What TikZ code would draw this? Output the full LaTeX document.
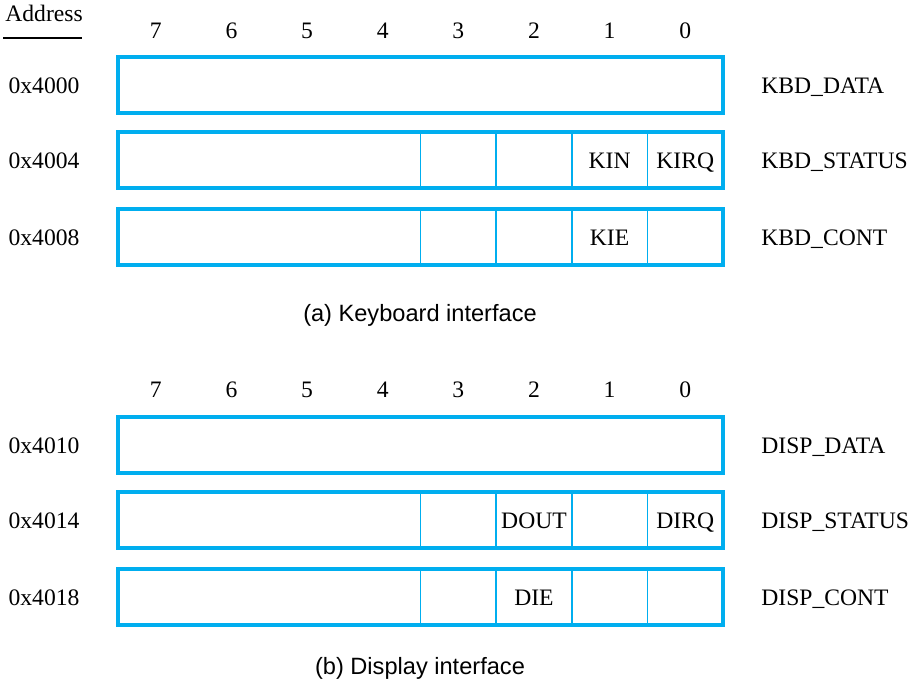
\documentclass[tikz,border=0pt]{standalone}
\usepackage{fontspec}
\setmainfont{Liberation Serif}
\newfontfamily\capfont{Liberation Sans}
\usetikzlibrary{calc}
\definecolor{regcyan}{RGB}{0,174,239}
\begin{document}
\begin{tikzpicture}[x=0.5pt,y=-0.5pt,
  lbl/.style={font=\fontsize{11.8}{13}\selectfont, inner sep=0pt, anchor=base},
  rlbl/.style={font=\fontsize{11.8}{13}\selectfont, inner sep=0pt, anchor=base west},
  captext/.style={font=\capfont\fontsize{11.8}{13}\selectfont, inner sep=0pt, anchor=base},
  regbox/.style={draw=regcyan, line width=2pt, minimum width=302.5pt, minimum height=28pt, inner sep=0pt, outer sep=0pt},
  divider/.style={draw=regcyan, line width=0.8pt}]
\useasboundingbox (0,0) rectangle (910,688);

% header
\node[rlbl] (addr) at (5,22) {Address};
\draw[line width=0.65pt] (3,38) -- (82,38);

% bit numbers
\foreach \b in {0,...,7}{
  \pgfmathsetmacro{\cx}{118+75.625*(7-\b)+37.8}
  \node[lbl] (bta\b) at (\cx,39) {\b};
  \node[lbl] (btb\b) at (\cx,398) {\b};
}

% registers
\node[regbox] (r1) at (420.5,85) {};
\node[regbox] (r2) at (420.5,160) {};
\node[regbox] (r3) at (420.5,237) {};
\node[regbox] (r4) at (420.5,445) {};
\node[regbox] (r5) at (420.5,520) {};
\node[regbox] (r6) at (420.5,597) {};

\foreach \r in {r2,r3,r5,r6}{
  \foreach \j in {4,5,6,7}{
    \draw[divider] ($(\r.north west)!\j/8!(\r.north east)$) -- ($(\r.south west)!\j/8!(\r.south east)$);
  }
}

% address labels
\node[lbl] (a1) at (44,94) {0x4000};
\node[lbl] (a2) at (44,169) {0x4004};
\node[lbl] (a3) at (44,246) {0x4008};
\node[lbl] (a4) at (44,454) {0x4010};
\node[lbl] (a5) at (44,529) {0x4014};
\node[lbl] (a6) at (44,606) {0x4018};

% register names
\node[rlbl] (n1) at (761,94) {KBD\_DATA};
\node[rlbl] (n2) at (761,169) {KBD\_STATUS};
\node[rlbl] (n3) at (761,246) {KBD\_CONT};
\node[rlbl] (n4) at (761,454) {DISP\_DATA};
\node[rlbl] (n5) at (761,529) {DISP\_STATUS};
\node[rlbl] (n6) at (761,606) {DISP\_CONT};

% bit field labels
\node[lbl] (kin) at (609.6,168.5) {KIN};
\node[lbl] (kirq) at (685.2,168.5) {KIRQ};
\node[lbl] (kie) at (609.6,245.5) {KIE};
\node[lbl] (dout) at (534,528.5) {DOUT};
\node[lbl] (dirq) at (685.2,528.5) {DIRQ};
\node[lbl] (die) at (534,605.5) {DIE};

% captions
\node[captext] (capa) at (420,322) {(a) Keyboard interface};
\node[captext] (capb) at (420,675) {(b) Display interface};
\end{tikzpicture}
\end{document}
